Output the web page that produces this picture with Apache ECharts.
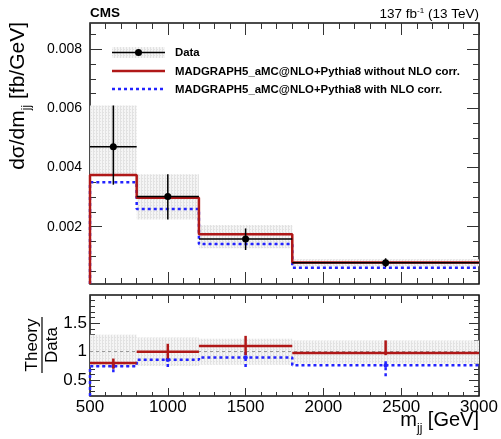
<!DOCTYPE html>
<html><head><meta charset="utf-8">
<script src="https://cdn.jsdelivr.net/npm/echarts@6/dist/echarts.min.js"></script>
<style>html,body{margin:0;padding:0;background:#fff}#c{width:501px;height:439px}</style>
</head><body><div id="c"></div>
<script>
// ---- data ----
const binEdges = [500, 800, 1200, 1800, 3000];
const binCenters = [650, 1000, 1500, 2400];
const dataVal = [0.00470, 0.00302, 0.00158, 0.00078];
const dataErrUp = [0.00140, 0.00075, 0.00036, 0.00015];
const dataErrDown = [0.00128, 0.00078, 0.00037, 0.00015];
const bandHi = [0.00610, 0.00377, 0.00206, 0.00090];
const bandLo = [0.00370, 0.00224, 0.00127, 0.00066];
const predNoCorr = [0.00375, 0.00298, 0.00174, 0.00079];
const predNLO = [0.00350, 0.00260, 0.00141, 0.00061];
const ratioNoCorr = [0.80, 1.00, 1.10, 0.98];
const ratioNoCorrLo = [0.70, 0.88, 0.94, 0.94];
const ratioNoCorrHi = [0.88, 1.14, 1.28, 1.20];
const ratioNLO = [0.745, 0.86, 0.90, 0.76];
const ratioNLOLo = [0.64, 0.73, 0.73, 0.57];
const ratioNLOHi = [0.80, 0.95, 1.00, 0.85];
const ratioBandHi = [1.30, 1.25, 1.23, 1.20];
const ratioBandLo = [0.73, 0.75, 0.77, 0.79];
const yTopMajor = [0.002, 0.004, 0.006, 0.008];
const yTopMinor = [0.0005, 0.001, 0.0015, 0.0025, 0.003, 0.0035, 0.0045, 0.005, 0.0055, 0.0065, 0.007, 0.0075, 0.0085];
const yBotMajor = [0.5, 1, 1.5];
const yBotMinor = [0.3, 0.4, 0.6, 0.7, 0.8, 0.9, 1.1, 1.2, 1.3, 1.4, 1.6, 1.7, 1.8, 1.9];
const legendLabels = ['Data', 'MADGRAPH5_aMC@NLO+Pythia8 without NLO corr.', 'MADGRAPH5_aMC@NLO+Pythia8 with NLO corr.'];

// ---- style ----
const FONT = '"Liberation Sans", Arial, Helvetica, sans-serif';
const RED = '#b01818';
const BLUE = '#2323ff';
const TOP_MIN = 0.00006, TOP_MAX = 0.00889;
const BOT_MIN = 0.22, BOT_MAX = 2.0;

const pc = document.createElement('canvas'); pc.width = 3; pc.height = 3;
(function () { const g = pc.getContext('2d'); g.fillStyle = '#f5f5f5'; g.fillRect(0, 0, 3, 3); g.fillStyle = '#e2e2e2'; g.fillRect(0, 0, 1, 3); g.fillRect(1, 1, 1, 1); })();
const PATTERN = { image: pc, repeat: 'repeat' };

function hist(edges, vals, base) {
  const pts = [[edges[0], base]];
  vals.forEach((v, i) => { pts.push([edges[i], v]); pts.push([edges[i + 1], v]); });
  return pts;
}
function xAx(grid, pos, showLabel, majLen, minLen) {
  return {
    type: 'value', gridIndex: grid, position: pos, min: 500, max: 3000, interval: 500,
    axisLine: { show: false }, splitLine: { show: false },
    axisTick: { show: true, inside: true, length: majLen, lineStyle: { color: '#333', width: 1 } },
    minorTick: { show: true, splitNumber: 5, length: minLen, lineStyle: { color: '#333', width: 1 } },
    axisLabel: { show: showLabel, margin: 3, fontSize: 17, fontFamily: FONT, color: '#000', formatter: v => String(v) }
  };
}
function yAx(grid, pos, min, max, ticks, len, label, fs, margin) {
  return {
    type: 'value', gridIndex: grid, position: pos, min: min, max: max,
    axisLine: { show: false }, splitLine: { show: false },
    axisTick: { show: true, inside: true, length: len, customValues: ticks, lineStyle: { color: '#333', width: 1 } },
    axisLabel: { show: label, customValues: ticks, margin: margin || 4, fontSize: fs || 12, fontFamily: FONT, color: '#000',
      formatter: v => String(+v.toPrecision(6)) }
  };
}
function bandRender(params, api) {
  const p1 = api.coord([api.value(0), api.value(3)]);
  const p2 = api.coord([api.value(1), api.value(2)]);
  return { type: 'rect', shape: { x: p1[0], y: p1[1], width: p2[0] - p1[0], height: p2[1] - p1[1] }, style: { fill: PATTERN } };
}
function errRender(color, width, dash, r, hbar) {
  return function (params, api) {
    const l = api.coord([api.value(0), api.value(3)]);
    const rr = api.coord([api.value(1), api.value(3)]);
    const c = api.coord([api.value(2), api.value(3)]);
    const lo = api.coord([api.value(2), api.value(4)]);
    const hi = api.coord([api.value(2), api.value(5)]);
    const st = { stroke: color, lineWidth: width, lineDash: dash, fill: null };
    const ch = [];
    if (hbar) ch.push({ type: 'line', shape: { x1: l[0], y1: l[1], x2: rr[0], y2: rr[1] }, style: st });
    ch.push({ type: 'line', shape: { x1: lo[0], y1: lo[1], x2: hi[0], y2: hi[1] }, style: st });
    if (r) ch.push({ type: 'circle', shape: { cx: c[0], cy: c[1], r: r }, style: { fill: color } });
    return { type: 'group', children: ch };
  };
}
const bandItems = binCenters.map((c, i) => [binEdges[i], binEdges[i + 1], bandLo[i], bandHi[i]]);
const ratioBandItems = binCenters.map((c, i) => [binEdges[i], binEdges[i + 1], ratioBandLo[i], ratioBandHi[i]]);
const dataItems = binCenters.map((c, i) => [binEdges[i], binEdges[i + 1], c, dataVal[i], dataVal[i] - dataErrDown[i], dataVal[i] + dataErrUp[i]]);
const redRatioItems = binCenters.map((c, i) => [binEdges[i], binEdges[i + 1], c, ratioNoCorr[i], ratioNoCorrLo[i], ratioNoCorrHi[i]]);
const blueRatioItems = binCenters.map((c, i) => [binEdges[i], binEdges[i + 1], c, ratioNLO[i], ratioNLOLo[i], ratioNLOHi[i]]);

const chart = echarts.init(document.getElementById('c'), null, { renderer: 'canvas' });
const txt = (o) => Object.assign({ type: 'text', z: 100 }, o);

chart.setOption({
  animation: false,
  backgroundColor: '#fff',
  grid: [
    { left: 90, right: 22, top: 23, height: 261, show: true, borderColor: '#111', borderWidth: 1.5, backgroundColor: 'transparent' },
    { left: 90, right: 22, top: 295, height: 101, show: true, borderColor: '#111', borderWidth: 1.5, backgroundColor: 'transparent' }
  ],
  xAxis: [xAx(0, 'bottom', false, 12, 6), xAx(0, 'top', false, 12, 6), xAx(1, 'bottom', true, 8, 4), xAx(1, 'top', false, 8, 4)],
  yAxis: [
    yAx(0, 'left', TOP_MIN, TOP_MAX, yTopMajor, 12, true, 14, 8),
    yAx(0, 'left', TOP_MIN, TOP_MAX, yTopMinor, 6, false),
    yAx(0, 'right', TOP_MIN, TOP_MAX, yTopMajor, 12, false),
    yAx(0, 'right', TOP_MIN, TOP_MAX, yTopMinor, 6, false),
    yAx(1, 'left', BOT_MIN, BOT_MAX, yBotMajor, 10, true, 17, 3),
    yAx(1, 'left', BOT_MIN, BOT_MAX, yBotMinor, 5, false),
    yAx(1, 'right', BOT_MIN, BOT_MAX, yBotMajor, 10, false),
    yAx(1, 'right', BOT_MIN, BOT_MAX, yBotMinor, 5, false)
  ],
  series: [
    { type: 'custom', xAxisIndex: 0, yAxisIndex: 0, data: bandItems, encode: { x: [0, 1], y: [2, 3] }, renderItem: bandRender, silent: true, z: 1, clip: true },
    { type: 'line', xAxisIndex: 0, yAxisIndex: 0, data: hist(binEdges, predNLO, TOP_MIN), showSymbol: false, silent: true, z: 3,
      lineStyle: { color: BLUE, width: 2.5, type: [3, 3] } },
    { type: 'line', xAxisIndex: 0, yAxisIndex: 0, data: hist(binEdges, predNoCorr, TOP_MIN), showSymbol: false, silent: true, z: 4,
      lineStyle: { color: RED, width: 2.5 } },
    { type: 'custom', xAxisIndex: 0, yAxisIndex: 0, data: dataItems, encode: { x: [0, 1, 2], y: [3, 4, 5] }, renderItem: errRender('#000', 1.5, null, 3.5, true), silent: true, z: 5 },

    { type: 'custom', xAxisIndex: 2, yAxisIndex: 4, data: ratioBandItems, encode: { x: [0, 1], y: [2, 3] }, renderItem: bandRender, silent: true, z: 1, clip: true,
      markLine: { silent: true, symbol: 'none', label: { show: false }, data: [{ yAxis: 1 }], lineStyle: { color: '#999', width: 1.2, type: [3, 3] }, z: 2 } },
    { type: 'line', xAxisIndex: 2, yAxisIndex: 4, data: hist(binEdges, ratioNLO, BOT_MIN), showSymbol: false, silent: true, z: 3,
      lineStyle: { color: BLUE, width: 2.5, type: [3, 3] } },
    { type: 'custom', xAxisIndex: 2, yAxisIndex: 4, data: blueRatioItems, encode: { x: [0, 1, 2], y: [3, 4, 5] }, renderItem: errRender(BLUE, 2.5, [3, 3], 2.2, false), silent: true, z: 3 },
    { type: 'custom', xAxisIndex: 2, yAxisIndex: 4, data: redRatioItems, encode: { x: [0, 1, 2], y: [3, 4, 5] }, renderItem: errRender(RED, 2.5, null, 0, true), silent: true, z: 4 }
  ],
  graphic: [
    txt({ left: 90, top: 6, style: { text: 'CMS', font: 'bold 13.5px ' + FONT, fill: '#000' } }),
    txt({ x: 479, y: 14, style: { text: '137 fb{sup|-1} (13 TeV)', fill: '#000', align: 'right', verticalAlign: 'middle', font: '13.5px ' + FONT,
      rich: { sup: { fontSize: 8, lineHeight: 8, verticalAlign: 'top', fontFamily: FONT } } } }),
    // y title top
    txt({ x: 18, y: 22, rotation: Math.PI / 2, style: { text: 'dσ/dm{sub|jj} [fb/GeV]', align: 'right', verticalAlign: 'middle', fill: '#000',
      fontSize: 21, fontFamily: FONT, lineHeight: 30, rich: { sub: { fontSize: 12, lineHeight: 12, verticalAlign: 'bottom', fontFamily: FONT } } } }),
    // ratio y title
    txt({ x: 32, y: 345, rotation: Math.PI / 2, style: { text: 'Theory', align: 'center', verticalAlign: 'middle', fill: '#000', font: '17px ' + FONT } }),
    txt({ x: 52, y: 345, rotation: Math.PI / 2, style: { text: 'Data', align: 'center', verticalAlign: 'middle', fill: '#000', font: '17px ' + FONT } }),
    { type: 'line', shape: { x1: 42, y1: 317, x2: 42, y2: 373 }, style: { stroke: '#000', lineWidth: 1.2 }, z: 100 },
    // x title
    txt({ x: 479, y: 420, style: { text: 'm{sub|jj} [GeV]', align: 'right', verticalAlign: 'middle', fill: '#000',
      fontSize: 20, fontFamily: FONT, lineHeight: 30, rich: { sub: { fontSize: 12, lineHeight: 12, verticalAlign: 'bottom', fontFamily: FONT } } } }),
    // legend
    { type: 'rect', shape: { x: 112, y: 47, width: 53, height: 11 }, style: { fill: PATTERN }, z: 90 },
    { type: 'line', shape: { x1: 112, y1: 52.5, x2: 165, y2: 52.5 }, style: { stroke: '#000', lineWidth: 1.5 }, z: 91 },
    { type: 'circle', shape: { cx: 138.5, cy: 52.5, r: 3.5 }, style: { fill: '#000' }, z: 92 },
    { type: 'line', shape: { x1: 112, y1: 71, x2: 165, y2: 71 }, style: { stroke: RED, lineWidth: 2.5 }, z: 91 },
    { type: 'line', shape: { x1: 112, y1: 89, x2: 165, y2: 89 }, style: { stroke: BLUE, lineWidth: 2.5, lineDash: [3, 3] }, z: 91 },
    txt({ x: 175, y: 53, style: { text: legendLabels[0], font: 'bold 11.4px ' + FONT, fill: '#000', verticalAlign: 'middle' } }),
    txt({ x: 175, y: 72, style: { text: legendLabels[1], font: 'bold 11.4px ' + FONT, fill: '#000', verticalAlign: 'middle' } }),
    txt({ x: 175, y: 90, style: { text: legendLabels[2], font: 'bold 11.4px ' + FONT, fill: '#000', verticalAlign: 'middle' } })
  ]
});
</script>
</body></html>
